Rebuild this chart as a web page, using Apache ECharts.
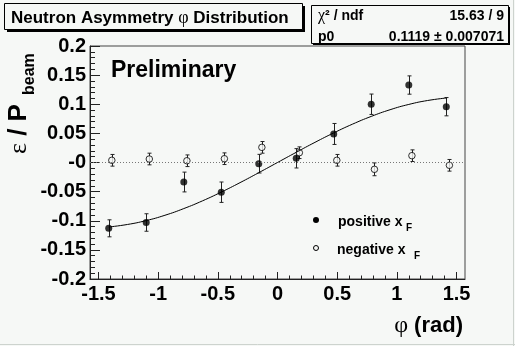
<!DOCTYPE html>
<html>
<head>
<meta charset="utf-8">
<script src="https://cdn.jsdelivr.net/npm/echarts@6/dist/echarts.min.js"></script>
<style>
  html, body { margin: 0; padding: 0; background: #f6f8f6; }
  #chart { width: 515px; height: 346px; }
</style>
</head>
<body>
<div id="chart"></div>
<script>
// positive x_F (filled markers)
const phiPos = [-1.414, -1.100, -0.785, -0.471, -0.157, 0.157, 0.471, 0.785, 1.100, 1.414];
const asymPos = [-0.113, -0.103, -0.0335, -0.051, -0.002, 0.0072, 0.049, 0.100, 0.133, 0.0958];
const errPos = [0.0146, 0.015, 0.017, 0.0175, 0.016, 0.0166, 0.018, 0.0175, 0.0157, 0.0157];

// negative x_F (open markers)
const phiNeg = [-1.388, -1.074, -0.759, -0.445, -0.131, 0.183, 0.497, 0.812, 1.126, 1.440];
const asymNeg = [0.0038, 0.006, 0.003, 0.0065, 0.026, 0.0168, 0.0038, -0.0117, 0.0117, -0.0048];
const errNeg = [0.010, 0.010, 0.010, 0.010, 0.010, 0.010, 0.010, 0.011, 0.010, 0.010];

// fit curve
const fitPhi = [-1.414, -1.257, -1.100, -0.943, -0.785, -0.628, -0.471, -0.314, -0.157, 0,
                0.157, 0.314, 0.471, 0.628, 0.785, 0.943, 1.100, 1.257, 1.414];
const fitVal = [-0.1107, -0.1064, -0.0997, -0.0906, -0.0791, -0.0658, -0.0508, -0.0346, -0.0175, 0,
                0.0175, 0.0346, 0.0508, 0.0658, 0.0791, 0.0906, 0.0997, 0.1064, 0.1107];

const xTicks = [-1.5, -1, -0.5, 0, 0.5, 1, 1.5];
const xTickLabels = ['-1.5', '-1', '-0.5', '0', '0.5', '1', '1.5'];
const yTicks = [-0.2, -0.15, -0.1, -0.05, 0, 0.05, 0.1, 0.15, 0.2];
const yTickLabels = ['-0.2', '-0.15', '-0.1', '-0.05', '-0', '0.05', '0.1', '0.15', '0.2'];

const bg = '#f6f8f6';
const font = "'Liberation Sans', Arial, Helvetica, sans-serif";
const greek = "'Liberation Serif', 'DejaVu Serif', serif";

const xMinor = [];
for (let i = -15; i <= 15; i++) xMinor.push(i / 10);

function tickLabel(ticks, labels) {
  return v => {
    const i = ticks.findIndex(t => Math.abs(t - v) < 1e-9);
    return i < 0 ? '' : labels[i];
  };
}

function errorBar(params, api) {
  const x = api.value(0);
  const lo = api.coord([x, api.value(1)]);
  const hi = api.coord([x, api.value(2)]);
  const cx = Math.round(lo[0]) + 0.5;
  const cap = 2;
  const style = {stroke: '#222', lineWidth: 1};
  return {
    type: 'group',
    children: [
      {type: 'line', shape: {x1: cx, y1: lo[1], x2: cx, y2: hi[1]}, style},
      {type: 'line', shape: {x1: cx - cap, y1: lo[1], x2: cx + cap, y2: lo[1]}, style},
      {type: 'line', shape: {x1: cx - cap, y1: hi[1], x2: cx + cap, y2: hi[1]}, style}
    ]
  };
}

const chart = echarts.init(document.getElementById('chart'));

const option = {
  backgroundColor: bg,
  animation: false,
  textStyle: {fontFamily: font},
  grid: {
    left: 90, right: 50, top: 46, bottom: 67,
    show: true, borderColor: '#444', borderWidth: 1, backgroundColor: 'transparent'
  },
  xAxis: [
    {
      type: 'value', min: -Math.PI / 2, max: Math.PI / 2, position: 'bottom', offset: 0,
      splitLine: {show: false},
      axisLine: {onZero: false, lineStyle: {color: '#222'}},
      axisTick: {inside: true, length: 7, customValues: xTicks, lineStyle: {color: '#222'}},
      axisLabel: {
        customValues: xTicks, formatter: tickLabel(xTicks, xTickLabels),
        color: '#000', fontWeight: 'bold', fontSize: 20, margin: 5
      }
    },
    {
      type: 'value', min: -Math.PI / 2, max: Math.PI / 2, position: 'bottom', offset: 0,
      splitLine: {show: false},
      axisLine: {show: false, onZero: false},
      axisTick: {inside: true, length: 3.5, customValues: xMinor, lineStyle: {color: '#222'}},
      axisLabel: {show: false}
    }
  ],
  yAxis: {
    type: 'value', min: -0.2, max: 0.2, interval: 0.05, position: 'left',
    splitLine: {show: false},
    axisLine: {show: true, onZero: false, lineStyle: {color: '#222'}},
    axisTick: {inside: true, length: 10, lineStyle: {color: '#222'}},
    minorTick: {show: true, splitNumber: 5, length: 5, lineStyle: {color: '#222'}},
    axisLabel: {
      formatter: tickLabel(yTicks, yTickLabels),
      color: '#000', fontWeight: 'bold', fontSize: 20, margin: 4
    }
  },
  series: [
    {
      type: 'line', data: fitPhi.map((x, i) => [x, fitVal[i]]),
      smooth: true, showSymbol: false, silent: true,
      lineStyle: {color: '#000', width: 1},
      markLine: {
        silent: true, symbol: 'none', label: {show: false},
        lineStyle: {color: '#777', type: [1, 2], width: 1},
        data: [{yAxis: 0}]
      }
    },
    {
      type: 'custom', renderItem: errorBar, encode: {x: 0, y: [1, 2]},
      data: phiPos.map((x, i) => [x, asymPos[i] - errPos[i], asymPos[i] + errPos[i]])
    },
    {
      type: 'custom', renderItem: errorBar, encode: {x: 0, y: [1, 2]},
      data: phiNeg.map((x, i) => [x, asymNeg[i] - errNeg[i], asymNeg[i] + errNeg[i]])
    },
    {
      type: 'scatter', data: phiPos.map((x, i) => [x, asymPos[i]]),
      symbol: 'circle', symbolSize: 7, itemStyle: {color: '#000'}
    },
    {
      type: 'scatter', data: phiNeg.map((x, i) => [x, asymNeg[i]]),
      symbol: 'circle', symbolSize: 6.5,
      itemStyle: {color: bg, borderColor: '#000', borderWidth: 1}
    }
  ],
  graphic: [
    // canvas edge
    {type: 'line', shape: {x1: 513.5, y1: 0, x2: 513.5, y2: 346}, style: {stroke: '#cdd3ce', lineWidth: 1}},
    {type: 'line', shape: {x1: 0, y1: 344.5, x2: 515, y2: 344.5}, style: {stroke: '#cdd3ce', lineWidth: 1}},
    // title box
    {type: 'rect', shape: {x: 7, y: 6, width: 298, height: 26}, style: {fill: '#000'}},
    {type: 'rect', shape: {x: 4.5, y: 3.5, width: 298, height: 26}, style: {fill: bg, stroke: '#000', lineWidth: 1}},
    {
      type: 'text', x: 11, y: 18,
      style: {
        text: '{b|Neutron Asymmetry }{g|φ}{b| Distribution}',
        verticalAlign: 'middle',
        rich: {
          b: {fontFamily: font, fontWeight: 'bold', fontSize: 17, fill: '#000'},
          g: {fontFamily: greek, fontSize: 18, fill: '#000'}
        }
      }
    },
    // stats box
    {type: 'rect', shape: {x: 313, y: 7, width: 197, height: 38}, style: {fill: '#000'}},
    {type: 'rect', shape: {x: 311.5, y: 5.5, width: 197, height: 38}, style: {fill: bg, stroke: '#000', lineWidth: 1}},
    {
      type: 'text', x: 318, y: 16,
      style: {
        text: '{g|χ}{b|² / ndf}', verticalAlign: 'middle',
        rich: {
          b: {fontFamily: font, fontWeight: 'bold', fontSize: 14, fill: '#000'},
          g: {fontFamily: greek, fontSize: 16, fill: '#000'}
        }
      }
    },
    {type: 'text', x: 504, y: 16, style: {text: '15.63 / 9', align: 'right', verticalAlign: 'middle', font: 'bold 14px ' + font, fill: '#000'}},
    {type: 'text', x: 318, y: 37, style: {text: 'p0', verticalAlign: 'middle', font: 'bold 14px ' + font, fill: '#000'}},
    {type: 'text', x: 504, y: 37, style: {text: '0.1119 ± 0.007071', align: 'right', verticalAlign: 'middle', font: 'bold 14px ' + font, fill: '#000'}},
    // preliminary
    {type: 'text', x: 111, y: 71, style: {text: 'Preliminary', verticalAlign: 'middle', font: 'bold 23px ' + font, fill: '#000'}},
    // legend
    {type: 'circle', shape: {cx: 316, cy: 220, r: 3}, style: {fill: '#000'}},
    {type: 'text', x: 338, y: 222, style: {text: 'positive x', verticalAlign: 'middle', font: 'bold 14px ' + font, fill: '#000'}},
    {type: 'text', x: 406, y: 228, style: {text: 'F', verticalAlign: 'middle', font: 'bold 10px ' + font, fill: '#000'}},
    {type: 'circle', shape: {cx: 316, cy: 248, r: 2.5}, style: {fill: bg, stroke: '#000', lineWidth: 1}},
    {type: 'text', x: 337, y: 250, style: {text: 'negative x', verticalAlign: 'middle', font: 'bold 14px ' + font, fill: '#000'}},
    {type: 'text', x: 414, y: 256, style: {text: 'F', verticalAlign: 'middle', font: 'bold 10px ' + font, fill: '#000'}},
    // x axis title
    {
      type: 'text', x: 463, y: 326,
      style: {
        text: '{g|φ}{b| (rad)}', align: 'right', verticalAlign: 'middle',
        rich: {
          b: {fontFamily: font, fontWeight: 'bold', fontSize: 22, fill: '#000'},
          g: {fontFamily: greek, fontSize: 24, fill: '#000'}
        }
      }
    },
    // y axis title
    {
      type: 'group', x: 19, y: 154, rotation: Math.PI / 2,
      children: [
        {
          type: 'text', x: 0, y: 0,
          style: {
            text: '{g|ε}{b| / P}', verticalAlign: 'middle',
            rich: {
              b: {fontFamily: font, fontWeight: 'bold', fontSize: 26, fill: '#000'},
              g: {fontFamily: greek, fontSize: 26, fill: '#000'}
            }
          }
        },
        {type: 'text', x: 59, y: 11, style: {text: 'beam', verticalAlign: 'middle', font: 'bold 16px ' + font, fill: '#000'}}
      ]
    }
  ]
};

chart.setOption(option);
</script>
</body>
</html>
